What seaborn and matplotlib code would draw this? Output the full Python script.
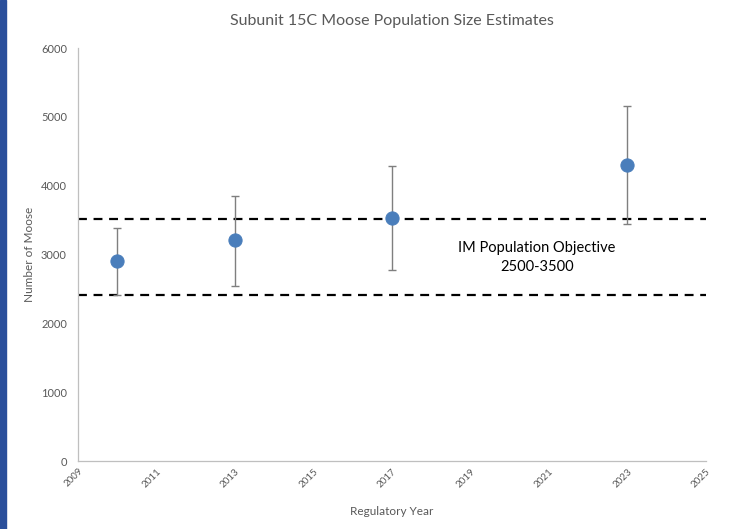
import numpy as np
import pandas as pd
import seaborn as sns
import matplotlib.pyplot as plt
from matplotlib.patches import Rectangle

years = [2010, 2013, 2017, 2023]
estimates = [2906, 3212, 3532, 4302]
lower = [2413, 2543, 2776, 3445]
upper = [3387, 3852, 4288, 5160]
objective_lines = [3517, 2413]
xticks = list(range(2009, 2026, 2))
yticks = list(range(0, 6001, 1000))

df = pd.DataFrame({'year': years, 'moose': estimates, 'low': lower, 'high': upper})

sns.set_style('white')
plt.rcParams['font.family'] = ['Lato', 'DejaVu Sans']
grey = '#595959'

fig = plt.figure(figsize=(7.29, 5.29), dpi=100)
ax = fig.add_axes([0.107, 0.1285, 0.861, 0.7805])

# left blue band
fig.patches.append(Rectangle((0, 0), 6 / 729, 1, transform=fig.transFigure,
                             color='#2a4f9b', zorder=0))

for yv in objective_lines:
    ax.axhline(yv, color='black', linestyle=(0, (4, 3)), linewidth=1.6, zorder=1)

ax.errorbar(df['year'], df['moose'],
            yerr=[df['moose'] - df['low'], df['high'] - df['moose']],
            fmt='none', ecolor='#7f7f7f', elinewidth=1.0, capsize=3, capthick=1, zorder=2)
sns.scatterplot(data=df, x='year', y='moose', ax=ax, s=90, color='#4a7ebb',
                edgecolor='#4a7ebb', zorder=3)

ax.text(2020.7, 3096, 'IM Population Objective', ha='center', va='center',
        fontsize=10.5, color='black')
ax.text(2020.7, 2820, '2500-3500', ha='center', va='center', fontsize=10.5, color='black')

ax.set_xlim(2009, 2025)
ax.set_ylim(0, 6000)
ax.set_xticks(xticks)
ax.set_yticks(yticks)
ax.set_xticklabels([str(t) for t in xticks], rotation=45, fontsize=7, color=grey)
ax.set_yticklabels([str(t) for t in yticks], fontsize=8, color=grey)
ax.tick_params(axis='x', length=4, color='#bfbfbf', width=0.8, pad=0)
ax.tick_params(axis='y', length=0, pad=8)
for lbl in ax.get_xticklabels():
    lbl.set_horizontalalignment('right')
    lbl.set_rotation_mode('anchor')

sns.despine(ax=ax)
for side in ['left', 'bottom']:
    ax.spines[side].set_color('#bfbfbf')
    ax.spines[side].set_linewidth(0.9)

ax.set_xlabel('Regulatory Year', fontsize=8.5, color=grey, labelpad=12)
ax.set_ylabel('Number of Moose', fontsize=8.5, color=grey, labelpad=4)
ax.set_title('Subunit 15C Moose Population Size Estimates', fontsize=11.5,
             color=grey, pad=17)

fig.savefig('out.png', dpi=100)
